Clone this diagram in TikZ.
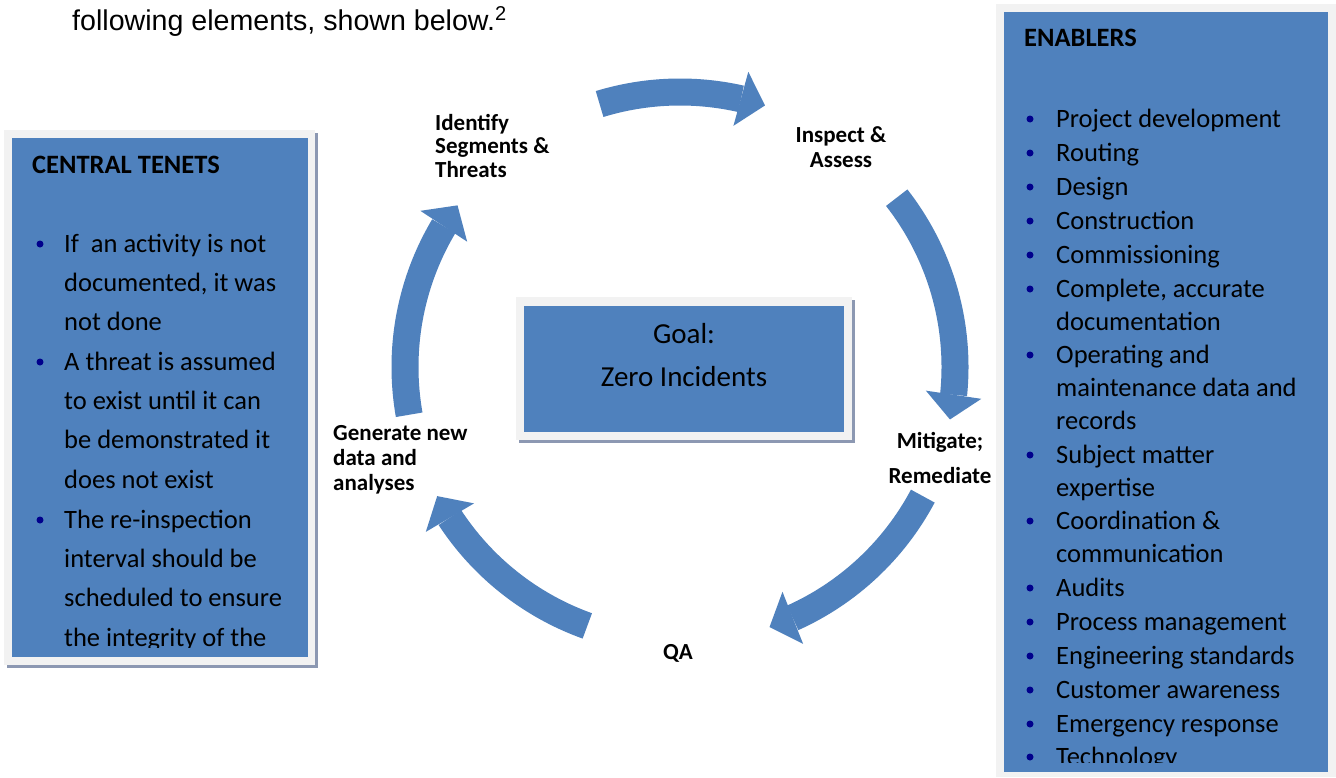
\documentclass[tikz,border=0pt]{standalone}
\usepackage{fontspec}
\setmainfont{Carlito}
\newfontfamily\arialfont{Liberation Sans}
\usetikzlibrary{arrows.meta,bending,calc}
\definecolor{obl}{RGB}{79,129,189}
\definecolor{framegray}{RGB}{242,242,242}
\definecolor{shad}{RGB}{140,152,178}
\definecolor{bulletnavy}{RGB}{0,0,140}
\tikzset{
  blockarrow/.style={draw=obl,line width=27pt,
    -{Triangle[length=25pt,width=56pt,line width=0pt,flex]}},
  shadowbox/.style={fill=shad,draw=none},
  framebox/.style={fill=framegray,draw=none},
  bluebox/.style={fill=obl,draw=none},
  bodytxt/.style={anchor=base west,inner sep=0pt,align=left,
    font=\fontsize{26.5}{39.3}\selectfont},
  enabtxt/.style={anchor=base west,inner sep=0pt,align=left,
    font=\fontsize{26.5}{33}\selectfont},
  headtxt/.style={anchor=base west,inner sep=0pt,
    font=\fontsize{26.5}{30}\selectfont\bfseries},
  cyclbl/.style={inner sep=0pt,font=\fontsize{23}{24}\selectfont\bfseries},
  dot/.style={circle,fill=bulletnavy,inner sep=0pt,minimum size=7pt},
}
\begin{document}
\begin{tikzpicture}[x=1pt,y=-1pt]
\useasboundingbox (0,0) rectangle (1336,777);
\fill[white] (0,0) rectangle (1336,777);

% top text
\node[anchor=base west,inner sep=0pt,font=\arialfont\fontsize{28.6}{32}\selectfont]
  (intro) at (72,30) {following elements, shown below.\textsuperscript{2}};

% ---------- left box ----------
\fill[shadowbox] (7,133) rectangle (318,668);
\fill[framebox] (4,130) rectangle (315,665);
\fill[bluebox] (12,138) rectangle (308,657);
\node[headtxt] (ct) at (32,173) {CENTRAL TENETS};
\begin{scope}
\clip (12,138) rectangle (308,647);
% multi-line nodes: base anchor = baseline of last line
\node[bodytxt] (t1) at (64,330.6) {If\ \ an activity is not\\documented, it was\\not done};
\node[bodytxt] (t2) at (64,488) {A threat is assumed\\to exist until it can\\be demonstrated it\\does not exist};
\node[bodytxt] (t3) at (64,646) {The re-inspection\\interval should be\\scheduled to ensure\\the integrity of the};
\node[dot] (d1) at (40,244) {};
\node[dot] (d2) at (40,362) {};
\node[dot] (d3) at (40,520) {};
\end{scope}

% ---------- right box ----------
\fill[framebox] (996,4) rectangle (1336,777);
\fill[bluebox] (1004,12) rectangle (1328,772);
\node[headtxt] (en) at (1024,46) {ENABLERS};
\begin{scope}
\clip (1004,12) rectangle (1328,762);
\foreach \nm/\yy/\yl/\tx in {
  e1/127/127/{Project development},
  e2/161/161/{Routing},
  e3/195/195/{Design},
  e4/229/229/{Construction},
  e5/263/263/{Commissioning},
  e6/297/330/{Complete, accurate\\documentation},
  e7/363/429/{Operating and\\maintenance data and\\records},
  e8/463/496/{Subject matter\\expertise},
  e9/529/562/{Coordination \&\\communication},
  e10/596/596/{Audits},
  e11/630/630/{Process management},
  e12/664/664/{Engineering standards},
  e13/698/698/{Customer awareness},
  e14/732/732/{Emergency response},
  e15/765/765/{Technology}}{
  \node[enabtxt] (\nm) at (1056,\yl) {\tx};
  \node[dot] (\nm d) at (1030,\yy-8) {};
}
\end{scope}

% ---------- centre box ----------
\fill[shadowbox] (519,300) rectangle (855,443);
\fill[framebox] (516,297) rectangle (852,440);
\fill[bluebox] (524,306) rectangle (844,432);
\node[anchor=base,inner sep=0pt,align=center,font=\fontsize{29}{43}\selectfont]
  (goal) at (684,386) {Goal:\\Zero Incidents};

% ---------- cycle labels ----------
\node[cyclbl,anchor=base west,align=left,font=\fontsize{23}{23.5}\selectfont\bfseries] (ident) at (435,177) {Identify\\Segments \&\\Threats};
\node[cyclbl,anchor=base,align=center,font=\fontsize{23}{25}\selectfont\bfseries] (insp) at (841,167) {Inspect \&\\Assess};
\node[cyclbl,anchor=base,align=center,font=\fontsize{23}{35}\selectfont\bfseries] (mitig) at (940,483) {Mitigate;\\Remediate};
\node[cyclbl,anchor=base] (qa) at (678,659) {QA};
\node[cyclbl,anchor=base west,align=left,font=\fontsize{23}{25}\selectfont\bfseries] (gen) at (333,490) {Generate new\\data and\\analyses};

% ---------- cycle arrows ----------
\coordinate (C) at (680,367);
\coordinate (a1s) at ($(C)+(-107:275)$);
\coordinate (a2s) at ($(C)+(-38:275)$);
\coordinate (a3s) at ($(C)+(28:275)$);
\coordinate (a4s) at ($(C)+(109.7:275)$);
\coordinate (a5s) at ($(C)+(170:275)$);
\draw[blockarrow] (a1s) arc[start angle=-107,end angle=-72,radius=275];
\draw[blockarrow] (a2s) arc[start angle=-38,end angle=11,radius=275];
\draw[blockarrow] (a3s) arc[start angle=28,end angle=71,radius=275];
\draw[blockarrow] (a4s) arc[start angle=109.7,end angle=152,radius=275];
\draw[blockarrow] (a5s) arc[start angle=170,end angle=216,radius=275];
\end{tikzpicture}
\end{document}
